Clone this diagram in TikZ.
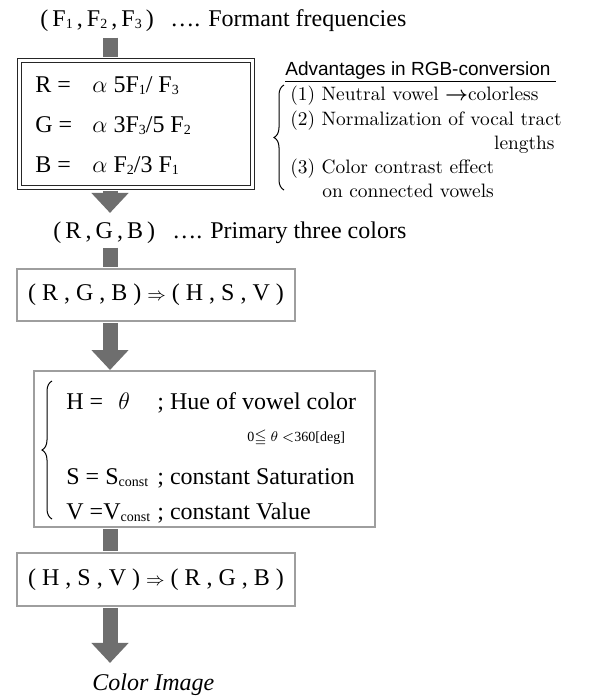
\documentclass[tikz,border=0pt]{standalone}
\usepackage{amsmath}
\usepackage{amssymb}
\usepackage{fontspec}
\newfontfamily\timesfont{Liberation Serif}
\newfontfamily\arialfont{Liberation Sans}
\usepackage{tikz}
\usetikzlibrary{arrows.meta, decorations.pathreplacing}

\newcommand{\fsub}[1]{\raisebox{-0.2ex}{\scriptsize #1}}
\newcommand{\tsp}{\hspace{0.17em}}

\begin{document}
\begin{tikzpicture}[x=0.5pt, y=-0.5pt,
    font=\timesfont\fontsize{12}{14}\selectfont,
    txt/.style={inner sep=0pt, anchor=base west},
    note/.style={inner sep=0pt, anchor=base west, font=\rmfamily\fontsize{9.7}{12}\selectfont},
    flowbox/.style={draw=black!38, line width=1pt, inner sep=0pt},
    fatbar/.style={draw=black!57, line width=7.5pt},
    fatarrow/.style={fatbar, -{Triangle[width=18pt, length=10pt]}},
    curly/.style={decorate, decoration={brace, amplitude=5pt}, line width=0.5pt}]

    \useasboundingbox (0,0) rectangle (614,697);
    \coordinate (axis) at (110,0);

    % formant frequencies
    \node[txt] (fvec) at (40,26) {(\tsp F\fsub{1}\tsp,\tsp F\fsub{2}\tsp,\tsp F\fsub{3}\tsp)};
    \node[txt] (fnote) at (170,26) {…. Formant frequencies};

    % conversion formulas
    \node[draw=black!85, double, double distance=1.5pt, line width=0.6pt,
          inner sep=0pt, minimum width=116.3pt, minimum height=63.3pt] (formula) at (136,124) {};
    \node[txt] (rlbl) at (35,92) {R =};
    \node[txt] (rval) at (92,92) {$\alpha$ 5F\fsub{1}/ F\fsub{3}};
    \node[txt] (glbl) at (35,132) {G =};
    \node[txt] (gval) at (92,132) {$\alpha$ 3F\fsub{3}/5 F\fsub{2}};
    \node[txt] (blbl) at (35,172) {B =};
    \node[txt] (bval) at (92,172) {$\alpha$ F\fsub{2}/3 F\fsub{1}};

    % advantages
    \node[txt, font=\arialfont\fontsize{9.5}{11}\selectfont] (advhead) at (285,75)
        {\underline{Advantages in RGB-conversion\ }};
    \node[note] (adv1) at (290,100) {(1) Neutral vowel $\boldsymbol{\rightarrow}$colorless};
    \node[note] (adv2) at (290,125) {(2) Normalization of vocal tract};
    \node[note, anchor=base east] (adv2b) at (555,149) {lengths};
    \node[note] (adv3) at (290,173) {(3) Color contrast effect};
    \node[note] (adv3b) at (322,197) {on connected vowels};
    \draw[curly] (284,190) -- (284,85);

    % primary colors
    \node[txt] (rgb) at (53,238) {(\tsp R\tsp,\tsp G\tsp,\tsp B\tsp)};
    \node[txt] (rgbnote) at (172,238) {…. Primary three colors};

    \node[flowbox, minimum width=139pt, minimum height=26pt] (rgb2hsv) at (156,295)
        {( R , G , B ) {\small$\Rightarrow$} ( H , S , V )};

    % vowel color
    \node[flowbox, minimum width=170.5pt, minimum height=78pt] (hsv) at (204.5,449) {};
    \draw[curly] (52,519) -- (52,381);
    \node[txt] (hlbl) at (66,409) {H =};
    \node[txt] (hval) at (118,409) {$\theta$};
    \node[txt] (hnote) at (157,409) {; Hue of vowel color};
    \node[txt, font=\timesfont\fontsize{7}{8}\selectfont] (hrange) at (247,441)
        {0$\leqq$ $\theta$ $<$360[deg]};
    \node[txt] (slbl) at (66,484) {S = S\fsub{const}};
    \node[txt] (snote) at (157,484) {; constant Saturation};
    \node[txt] (vlbl) at (66,519) {V =V\fsub{const}};
    \node[txt] (vnote) at (157,519) {; constant Value};

    \node[flowbox, minimum width=139pt, minimum height=26.5pt] (hsv2rgb) at (156,579.5)
        {( H , S , V ) {\small$\Rightarrow$} ( R , G , B )};

    \node[txt, font=\timesfont\itshape\fontsize{12}{14}\selectfont] (image) at (92,690) {Color Image};

    % flow
    \draw[fatbar, shorten <=3pt, shorten >=1.4pt] (fvec.south -| axis) -- (formula.north -| axis);
    \draw[fatarrow, shorten <=1.4pt, shorten >=4pt] (formula.south -| axis) -- (rgb.north -| axis);
    \draw[fatbar, shorten <=2pt, shorten >=0.5pt] (rgb.south -| axis) -- (rgb2hsv.north -| axis);
    \draw[fatarrow, shorten <=0.5pt] (rgb2hsv.south -| axis) -- (hsv.north -| axis);
    \draw[fatbar, shorten <=0.5pt, shorten >=0.5pt] (hsv.south -| axis) -- (hsv2rgb.north -| axis);
    \draw[fatarrow, shorten <=0.5pt, shorten >=5pt] (hsv2rgb.south -| axis) -- (image.north -| axis);
\end{tikzpicture}
\end{document}
